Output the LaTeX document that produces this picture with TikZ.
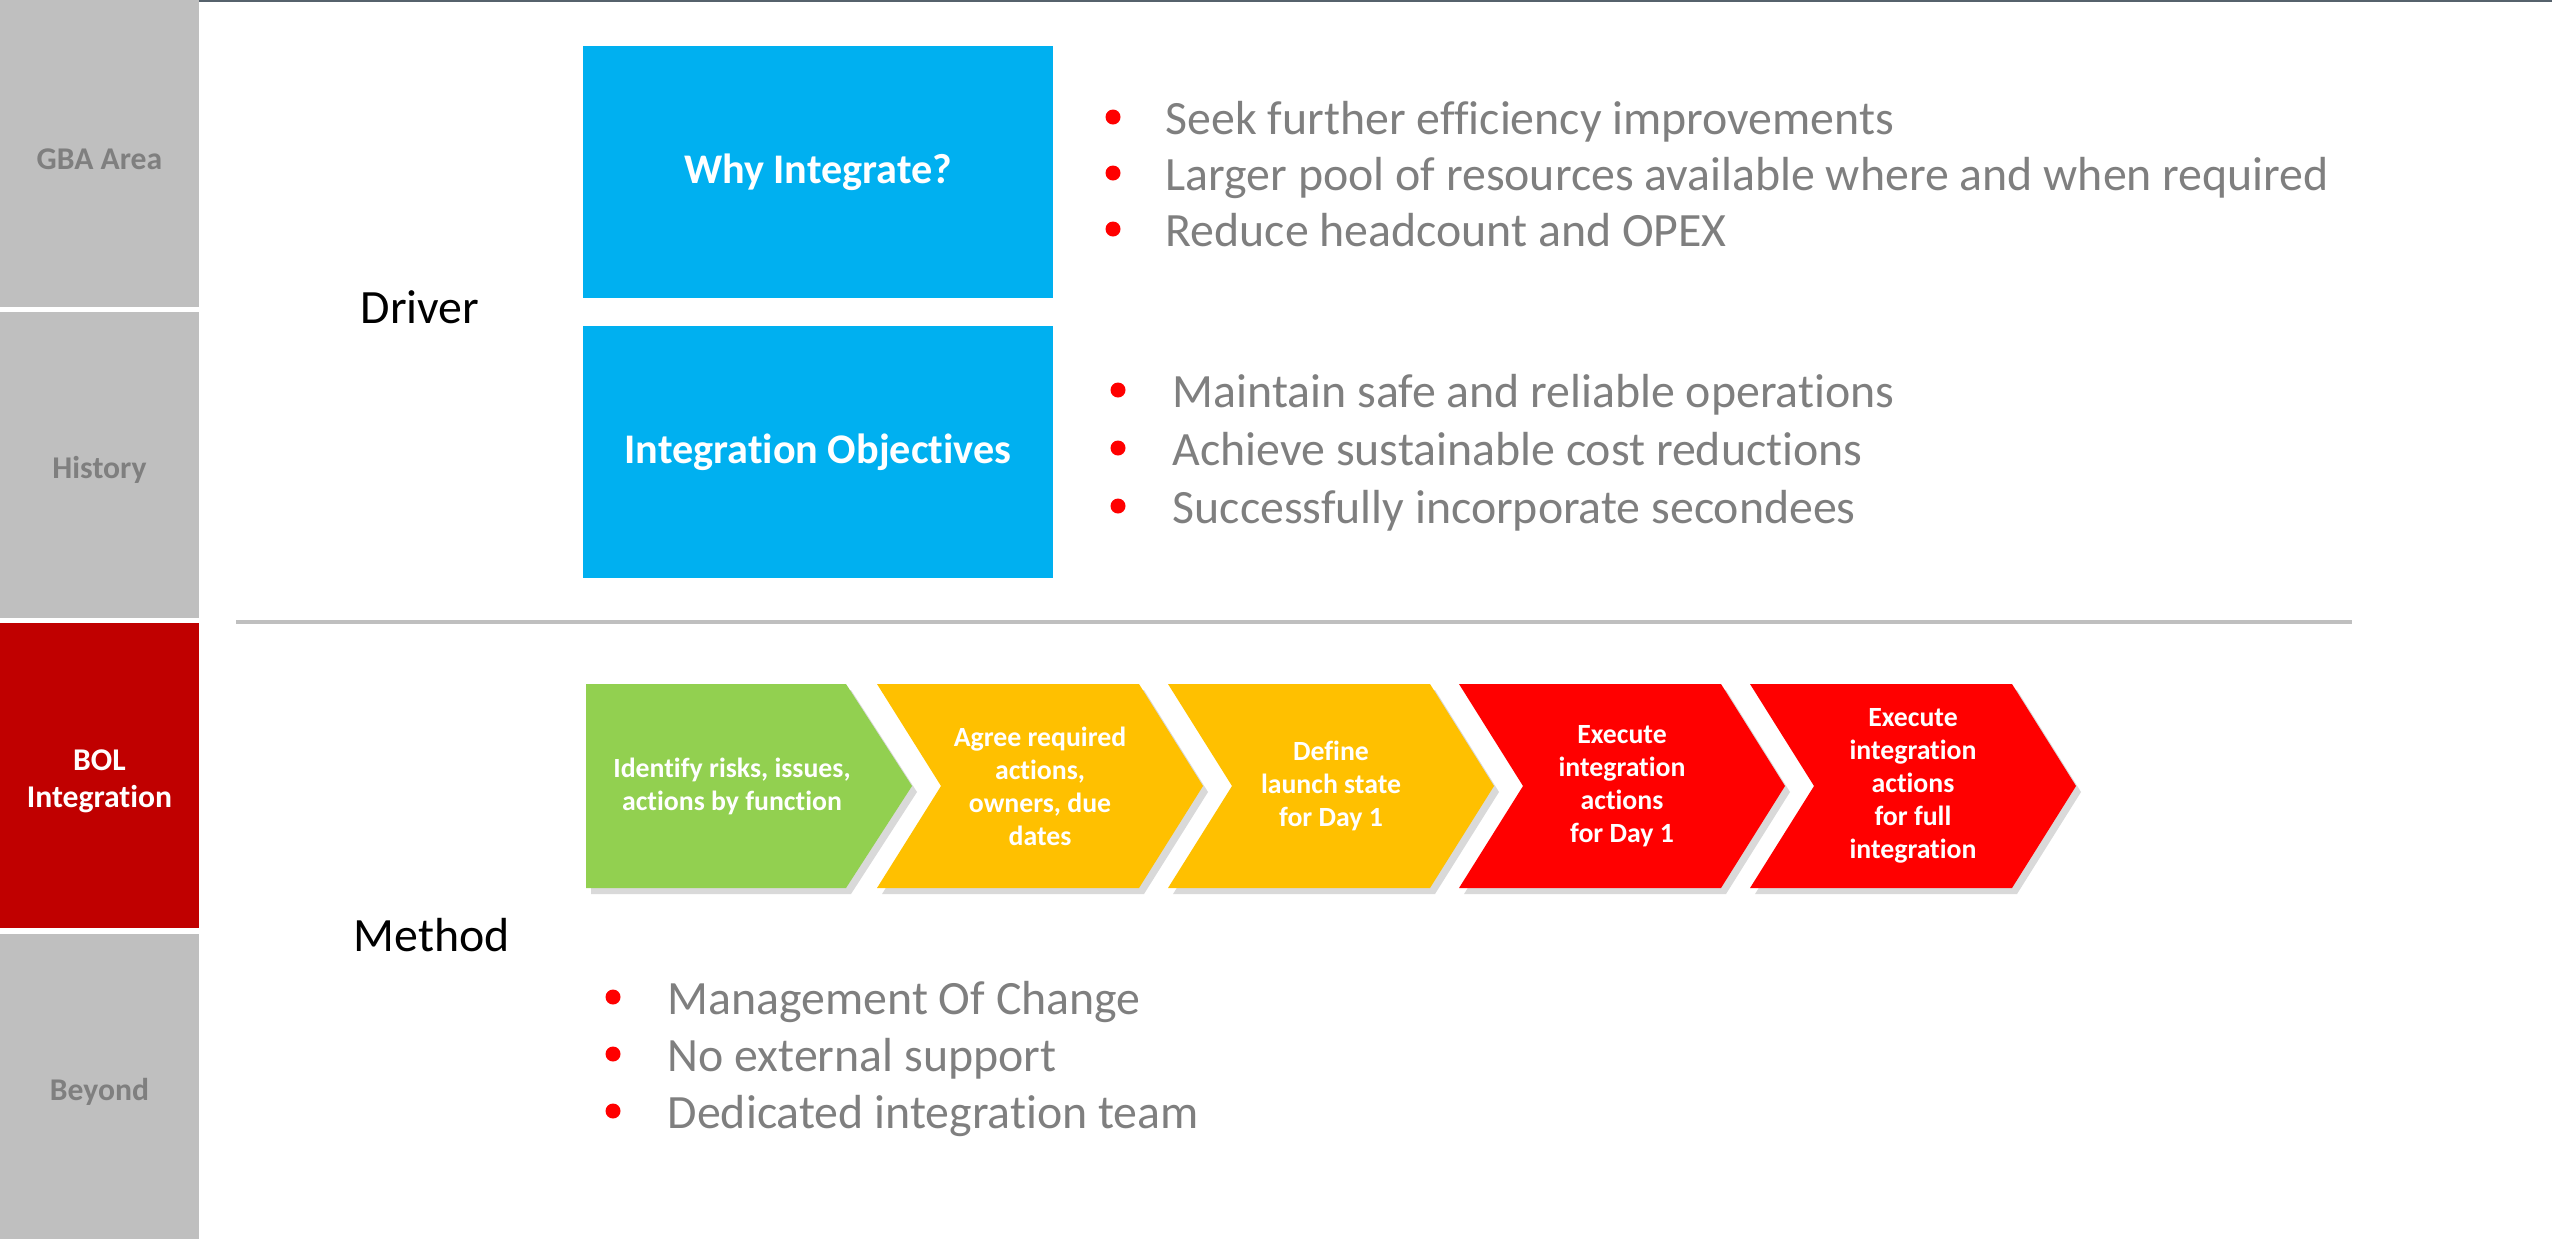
\documentclass[tikz,border=0pt]{standalone}
\usepackage{fontspec}
\setmainfont{Carlito}[Ligatures=NoCommon]
\usetikzlibrary{shadows}

\definecolor{sidegray}{HTML}{BFBFBF}
\definecolor{sidered}{HTML}{C00000}
\definecolor{txtgray}{HTML}{7F7F7F}
\definecolor{boxblue}{HTML}{00B0F0}
\definecolor{stepgreen}{HTML}{92D050}
\definecolor{stepyellow}{HTML}{FFC000}
\definecolor{stepred}{HTML}{FF0000}
\definecolor{topline}{HTML}{56626C}

\begin{document}
\begin{tikzpicture}
	[x=0.01cm, y=-0.01cm,
	side/.style = {text=txtgray, inner sep=0pt, align=center,
		font=\fontsize{9}{10.6}\selectfont\bfseries},
	goalbox/.style = {fill=boxblue, text=white, minimum width=4.7cm, minimum height=2.52cm,
		font=\fontsize{12}{14}\selectfont\bfseries},
	head/.style = {anchor=base west, inner sep=0pt, font=\fontsize{13.6}{16}\selectfont},
	item/.style = {head, text=txtgray},
	chev/.style = {drop shadow={shadow xshift=0.05cm, shadow yshift=-0.06cm, opacity=0.3}},
	chevtext/.style = {text=white, align=center, inner sep=0pt,
		font=\fontsize{7.9}{9.4}\selectfont\bfseries}]
	\useasboundingbox (0,0) rectangle (2552,1239);
	\draw[topline, line width=0.02cm] (0,1) -- (2552,1);

	% side bar
	\fill[sidegray] (0,0) rectangle (199,307);
	\fill[sidegray] (0,312) rectangle (199,618);
	\fill[sidered] (0,623) rectangle (199,928);
	\fill[sidegray] (0,934) rectangle (199,1239);
	\node[side] (gba) at (99.5,159) {GBA Area};
	\node[side] (hist) at (99.5,470) {History};
	\node[side, text=white] (bol) at (99.5,781) {BOL\\Integration};
	\node[side] (beyond) at (99.5,1092) {Beyond};

	% driver part
	\node[head] (driver) at (360,323) {Driver};
	\node[goalbox] (why) at (818,172) {Why Integrate?};
	\node[goalbox] (obj) at (818,452) {Integration Objectives};
	\foreach \t [count=\i] in {Seek further efficiency improvements,
		Larger pool of resources available where and when required,
		Reduce headcount and OPEX} {
		\fill[stepred] (1113,{117+56*(\i-1)}) circle[radius=0.075cm];
		\node[item] (why\i) at (1165,{134+56*(\i-1)}) {\t};
	}
	\foreach \t [count=\i] in {Maintain safe and reliable operations,
		Achieve sustainable cost reductions,
		Successfully incorporate secondees} {
		\fill[stepred] (1118,{390+58*(\i-1)}) circle[radius=0.075cm];
		\node[item] (obj\i) at (1172,{407+58*(\i-1)}) {\t};
	}

	\draw[sidegray, line width=0.04cm] (236,622) -- (2352,622);

	% method part
	\fill[stepgreen, chev] (586,684) -- (846,684) -- (912,786) -- (846,888) -- (586,888) -- cycle;
	\node[chevtext] (s0) at (732,786) {Identify risks, issues,\\actions by function};
	\foreach \col/\txt [count=\i] in {stepyellow/{Agree required\\actions,\\owners, due\\dates},
		stepyellow/{Define\\launch state\\for Day 1},
		stepred/{Execute\\integration\\actions\\for Day 1},
		stepred/{Execute\\integration\\actions\\for full\\integration}} {
		\pgfmathsetmacro{\xa}{586+291*\i}
		\fill[\col, chev] (\xa,684) -- ++(262,0) -- ++(64,102) -- ++(-64,102) -- ++(-262,0)
			-- ++(64,-102) -- cycle;
		\node[chevtext] (s\i) at ({\xa+163},786) {\txt};
	}

	\node[head] (method) at (353,951) {Method};
	\foreach \t [count=\i] in {Management Of Change, No external support,
		Dedicated integration team} {
		\fill[stepred] (613,{997+57*(\i-1)}) circle[radius=0.075cm];
		\node[item] (meth\i) at (667,{1014+57*(\i-1)}) {\t};
	}
\end{tikzpicture}
\end{document}
